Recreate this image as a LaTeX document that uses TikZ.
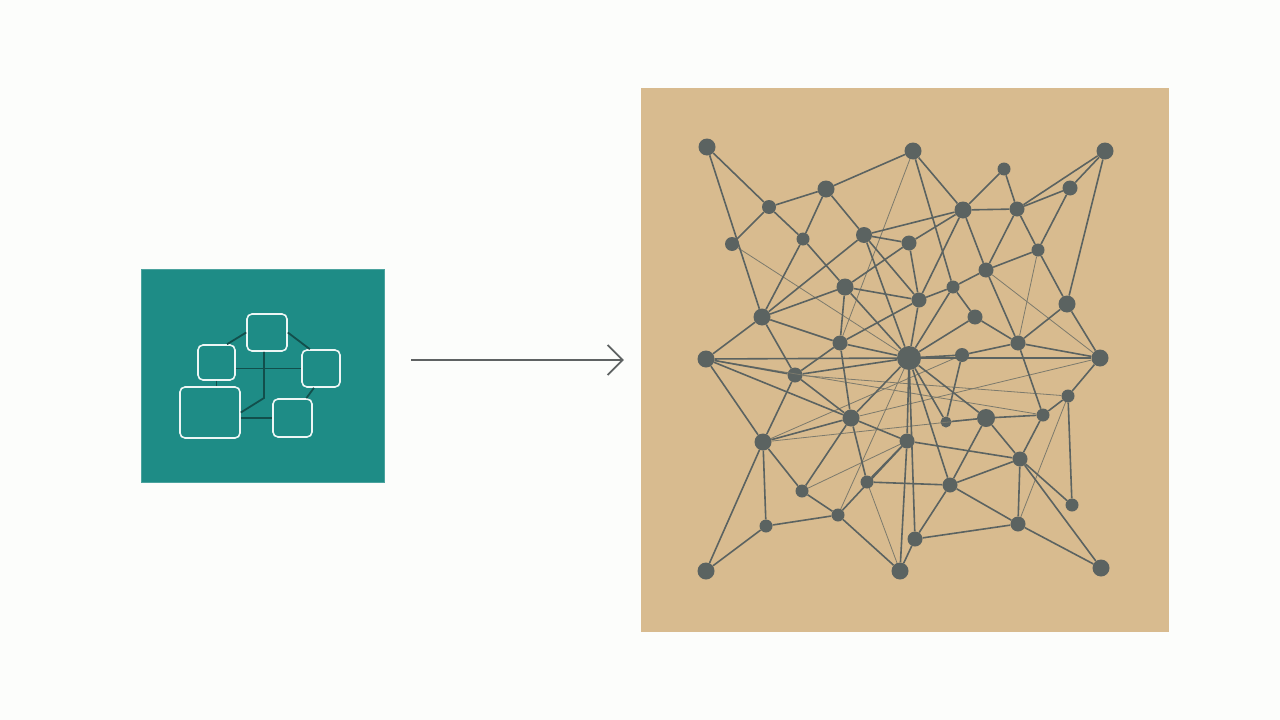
\documentclass[tikz,border=0pt]{standalone}
\usetikzlibrary{arrows.meta}
\definecolor{bgc}{HTML}{FCFDFB}
\definecolor{tealc}{HTML}{1E8C86}
\definecolor{tealline}{HTML}{124F4C}
\definecolor{panelc}{HTML}{D8BB8F}
\definecolor{nodec}{HTML}{5B6361}
\definecolor{thinc}{HTML}{7C7A6C}
\definecolor{arrowc}{HTML}{5E6262}
\begin{document}
\begin{tikzpicture}[x=1pt,y=-1pt,
  dot/.style={circle,fill=nodec,inner sep=0pt,minimum size=#1},
  edge/.style={draw=nodec,line width=1.6pt},
  thin edge/.style={draw=thinc,line width=0.8pt},
  roundbox/.style={draw=white!92!tealc,line width=1.6pt,rounded corners=5pt,inner sep=0pt},
  tlink/.style={draw=tealline,line width=1.8pt},
  bigarrow/.style={draw=arrowc,line width=1.8pt,-{Straight Barb[length=15pt,width=30pt,line width=1.8pt]}}
]
\useasboundingbox (0,0) rectangle (1280,720);
\fill[bgc] (0,0) rectangle (1280,720);

% left teal panel
\node[fill=tealc,draw=tealc!80!white,line width=0.6pt,minimum width=243pt,minimum height=213pt,inner sep=0pt] (teal) at (262.5,375.5) {};
\node[roundbox,minimum width=40pt,minimum height=37pt] (tb) at (267,332.5) {};
\node[roundbox,minimum width=37pt,minimum height=35pt] (lb) at (216.5,362.5) {};
\node[roundbox,minimum width=38pt,minimum height=37pt] (rb) at (321,368.5) {};
\node[roundbox,minimum width=60pt,minimum height=51pt] (big) at (210,412.5) {};
\node[roundbox,minimum width=39pt,minimum height=38pt] (br) at (292.5,418) {};
\coordinate (bend) at (264,398);
\draw[tlink] (lb.60) -- (tb.west);
\draw[tlink] (tb.east) -- (rb.120);
\draw[tlink] (lb.east |- rb.west) -- (rb.west);
\draw[tlink] ([xshift=-3pt]tb.south) -- (bend) -- (big.east);
\draw[tlink] (lb.south) -- (lb.south |- big.north);
\draw[tlink] (big.east |- br.west) -- (br.west);
\draw[tlink] (rb.250) -- (br.55);

% right panel
\node[fill=panelc,minimum width=528pt,minimum height=544pt,inner sep=0pt] (panel) at (905,360) {};

% arrow
\draw[bigarrow,shorten <=27pt,shorten >=17pt] (teal.east |- panel.west) -- (panel.west);

% network nodes
\node[dot=17pt] (A) at (707,147) {};
\node[dot=17pt] (B) at (913,151) {};
\node[dot=13pt] (C) at (1004,169) {};
\node[dot=17pt] (D) at (1105,151) {};
\node[dot=17pt] (E) at (826,189) {};
\node[dot=14pt] (F) at (769,207) {};
\node[dot=17pt] (G) at (963,210) {};
\node[dot=15pt] (H) at (1017,209) {};
\node[dot=15pt] (I) at (1070,188) {};
\node[dot=14pt] (J) at (732,244) {};
\node[dot=13pt] (K) at (803,239) {};
\node[dot=16pt] (L) at (864,235) {};
\node[dot=15pt] (M) at (909,243) {};
\node[dot=15pt] (N) at (986,270) {};
\node[dot=13pt] (O) at (1038,250) {};
\node[dot=17pt] (P) at (845,287) {};
\node[dot=13pt] (Q) at (953,287) {};
\node[dot=15pt] (R) at (919,300) {};
\node[dot=17pt] (S) at (762,317) {};
\node[dot=15pt] (T) at (975,317) {};
\node[dot=17pt] (U) at (1067,304) {};
\node[dot=15pt] (V) at (840,343) {};
\node[dot=15pt] (W) at (1018,343) {};
\node[dot=17pt] (X) at (706,359) {};
\node[dot=24pt] (Y) at (909,358) {};
\node[dot=14pt] (Z) at (962,355) {};
\node[dot=17pt] (AA) at (1100,358) {};
\node[dot=15pt] (AB) at (795,375) {};
\node[dot=13pt] (AC) at (1068,396) {};
\node[dot=17pt] (AD) at (851,418) {};
\node[dot=11pt] (AE) at (946,422) {};
\node[dot=18pt] (AF) at (986,418) {};
\node[dot=13pt] (AG) at (1043,415) {};
\node[dot=17pt] (AH) at (763,442) {};
\node[dot=15pt] (AI) at (907,441) {};
\node[dot=15pt] (AJ) at (1020,459) {};
\node[dot=13pt] (AK) at (867,482) {};
\node[dot=15pt] (AL) at (950,485) {};
\node[dot=13pt] (AM) at (802,491) {};
\node[dot=13pt] (AN) at (1072,505) {};
\node[dot=13pt] (AO) at (838,515) {};
\node[dot=13pt] (AP) at (766,526) {};
\node[dot=15pt] (AQ) at (1018,524) {};
\node[dot=15pt] (AR) at (915,539) {};
\node[dot=17pt] (AS) at (706,571) {};
\node[dot=17pt] (AT) at (900,571) {};
\node[dot=17pt] (AU) at (1101,568) {};

% thin edges
\foreach \a/\b in {J/Y,B/V,O/W,AC/AQ,N/AA,AD/AA,AH/Z,AM/AI,X/AG,AB/AC,AO/Y,AK/AT,AH/AF}
  \draw[thin edge] (\a) -- (\b);

% main edges
\foreach \a/\b in {A/F,A/S,F/E,F/K,F/J,E/B,E/K,E/L,K/S,K/P,L/S,L/G,L/R,L/M,L/Y,
  P/S,P/M,P/R,P/V,P/Y,M/R,M/G,B/G,B/Q,G/C,C/H,G/H,G/N,G/R,H/I,H/D,I/D,H/N,H/O,I/O,
  D/U,O/N,O/U,N/Q,N/W,Q/R,Q/T,T/W,T/Y,U/W,U/AA,R/Y,Q/Y,S/X,S/V,S/AB,X/Y,X/AB,X/AH,X/AD,
  V/R,V/Y,V/AB,AB/AH,AB/AD,AB/Y,AD/Y,AD/AH,AD/AM,AD/AI,AD/V,AH/AS,AH/AP,AH/AM,AM/AO,
  AP/AS,AP/AO,AO/AI,AO/AT,AI/Y,AI/AJ,AI/AK,AI/AT,Y/Z,Z/W,W/AA,Y/AA,AA/AC,AC/AG,AG/AF,
  AF/AE,AE/Y,AF/AJ,AG/AJ,AJ/AL,AJ/AQ,AJ/AN,AJ/AU,AC/AN,AL/AQ,AL/AR,AL/Y,AQ/AR,AQ/AU,
  AR/AT,Y/AF,AF/AL,AK/AL,AK/AD,Y/AR,Z/AE,W/AG}
  \draw[edge] (\a) -- (\b);
\end{tikzpicture}
\end{document}
